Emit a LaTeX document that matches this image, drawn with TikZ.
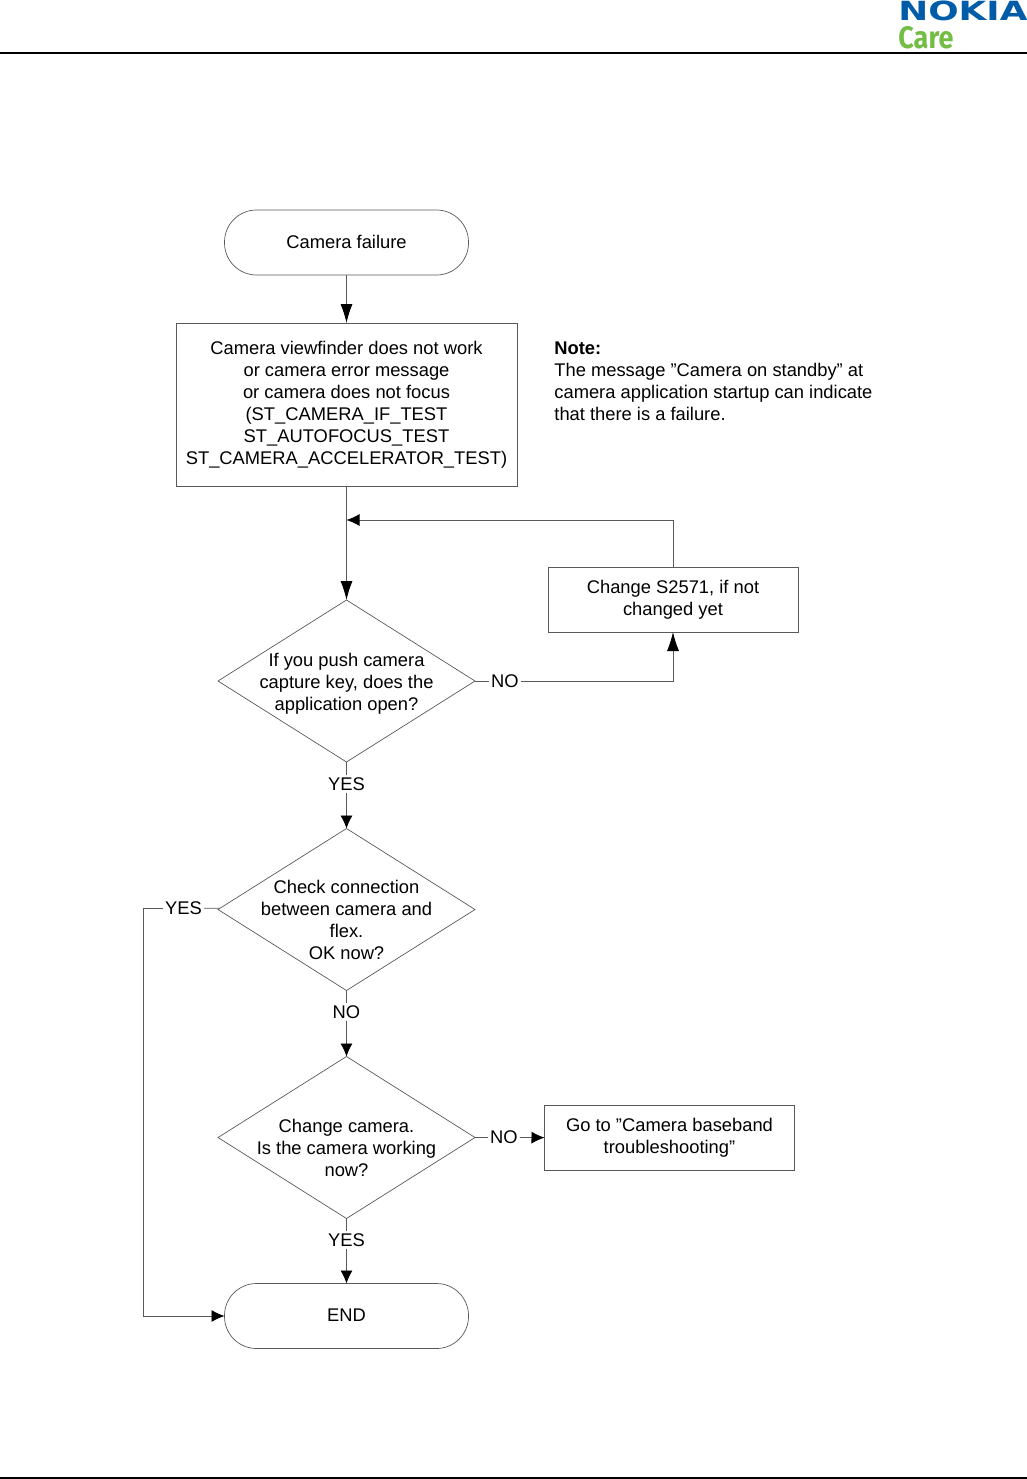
\documentclass[tikz,border=0pt]{standalone}
\usepackage{fontspec}
\setmainfont{Liberation Sans}
\newfontfamily\carefont{Fira Sans}
\newfontfamily\logofont{DejaVu Sans}
\usepackage{graphicx}
\usetikzlibrary{shapes.geometric, arrows.meta}
\definecolor{color1}{rgb}{0.0, 0.36, 0.66}
\definecolor{color2}{rgb}{0.45, 0.74, 0.27}
\definecolor{color3}{rgb}{0.35, 0.35, 0.35}
\tikzset{
  every node/.style = {font = \fontsize{9.17}{11}\selectfont},
  terminal/.style = {draw = color3, line width = 0.35pt, outer sep = 0pt, minimum width = 122pt, minimum height = 32.5pt, rounded corners = 16pt, text depth = 1pt, align = center},
  stepbox/.style = {draw = color3, line width = 0.35pt, outer sep = 0pt, minimum width = 125pt, minimum height = 32.5pt, inner sep = 0pt, align = center},
  decision/.style = {draw = color3, line width = 0.35pt, outer sep = 0pt, diamond, inner sep = 0pt, minimum width = 128.5pt, minimum height = 81pt},
  answer/.style = {inner sep = 0.9pt, fill = white},
  link/.style = {color3, line width = 0.4pt},
  arrowlink/.style = {link, -{Latex[length = 9.5pt, width = 6pt, color = black]}},
  shortlink/.style = {link, -{Latex[length = 6.5pt, width = 6pt, color = black]}}
}

\begin{document}
\begin{tikzpicture}[x = 0.5pt, y = -0.5pt]

\useasboundingbox (0, 0) rectangle (1027, 1479);
\draw [black, line width = 1pt] (0, 53) -- (1027, 53);
\draw [black, line width = 1pt] (0, 1478) -- (1027, 1478);
\node [anchor = south west, inner sep = 0pt, color1] (logo) at (898, 21) {\resizebox{64.5pt}{9.8pt}{\logofont\bfseries NOKIA}};
\node [anchor = south west, inner sep = 0pt, color2] (care) at (898, 49) {\resizebox{27.5pt}{11pt}{\carefont\bfseries Care}};

\node [terminal] (start) at (346.5, 242.5) {Camera failure};
\node [stepbox, minimum width = 170.5pt, minimum height = 81.5pt] (symptom) at (346.5, 404.5) {Camera viewfinder does not work\\or camera error message\\or camera does not focus\\(ST\_CAMERA\_IF\_TEST\\ST\_AUTOFOCUS\_TEST\\ST\_CAMERA\_ACCELERATOR\_TEST)};
\node [anchor = north west, inner sep = 0pt, align = left] (note) at (554, 341) {\textbf{Note:}\\The message ”Camera on standby” at\\camera application startup can indicate\\that there is a failure.};
\node [stepbox] (change) at (673, 599.5) {Change S2571, if not\\changed yet};
\node [decision, label = {[align = center, yshift = -1.5pt]center:If you push camera\\capture key, does the\\application open?}] (push) at (346.5, 681) {};
\node [decision, label = {[align = center, yshift = -5pt]center:Check connection\\between camera and\\flex.\\OK now?}] (connection) at (346.5, 909.5) {};
\node [decision, label = {[align = center, yshift = -5pt]center:Change camera.\\Is the camera working\\now?}] (working) at (346.5, 1137.5) {};
\node [stepbox] (baseband) at (669.5, 1138) {Go to ”Camera baseband\\troubleshooting”};
\node [terminal] (finish) at (346.5, 1316) {END};

\node [answer] (pushno) at (505, 681) {NO};
\node [answer] (pushyes) at (346.5, 784) {YES};
\node [answer] (connyes) at (183.5, 908) {YES};
\node [answer] (connno) at (346.5, 1012) {NO};
\node [answer] (workno) at (504, 1137.5) {NO};
\node [answer] (workyes) at (346.5, 1240) {YES};
\coordinate (back) at (346.5, 520);
\coordinate (corner) at (143.5, 908);

\draw [arrowlink] (start) -- (symptom);
\draw [arrowlink] (symptom) -- (push);
\draw [link] (push) -- (pushno);
\draw [arrowlink] (pushno) -| (change);
\draw [shortlink] (change) |- (back);
\draw [link] (push) -- (pushyes);
\draw [shortlink] (pushyes) -- (connection);
\draw [link] (connection) -- (connno);
\draw [shortlink] (connno) -- (working);
\draw [link] (connection) -- (connyes);
\draw [shortlink] (connyes) -- (corner) |- (finish);
\draw [link] (working) -- (workno);
\draw [shortlink] (workno) -- (baseband);
\draw [link] (working) -- (workyes);
\draw [shortlink] (workyes) -- (finish);

\end{tikzpicture}
\end{document}
